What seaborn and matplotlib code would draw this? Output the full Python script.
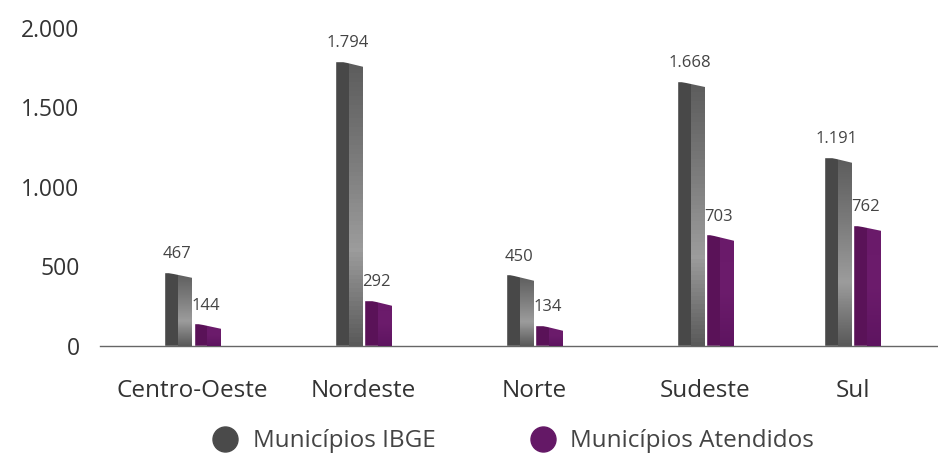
import numpy as np
import pandas as pd
import seaborn as sns
import matplotlib.pyplot as plt
from matplotlib.lines import Line2D
from matplotlib.patches import Polygon
from matplotlib.colors import LinearSegmentedColormap

regioes = ['Centro-Oeste', 'Nordeste', 'Norte', 'Sudeste', 'Sul']
municipios_ibge = [467, 1794, 450, 1668, 1191]
municipios_atendidos = [144, 292, 134, 703, 762]
series = ['Municípios IBGE', 'Municípios Atendidos']
cores = ['#484848', '#5a1258']

# horizontal placement of each region (last one sits a bit closer, as in the original)
x_pos = [0, 1, 2, 3, 3.86]

df = pd.DataFrame({
    'x': x_pos * 2,
    'serie': [series[0]] * len(regioes) + [series[1]] * len(regioes),
    'valor': municipios_ibge + municipios_atendidos,
})

sns.set_style('white')
plt.rcParams['font.family'] = ['Open Sans', 'DejaVu Sans']

fig = plt.figure(figsize=(9.38, 4.57), dpi=100)
ax = fig.add_axes([0.107, 0.243, 0.893, 0.696])

sns.barplot(data=df, x='x', y='valor', hue='serie', palette=cores, native_scale=True,
            width=0.34 / 0.86, gap=0.06, saturation=1, ax=ax, legend=False)

# lighter "3D" gradient on the right half of each bar, slanted top
grad_ibge = LinearSegmentedColormap.from_list('g1', ['#5a5a5a', '#9c9c9c', '#7a7a7a', '#5c5c5c'])
grad_atend = LinearSegmentedColormap.from_list('g2', ['#5e1460', '#6c1c6c', '#6a1a6a'])
slant = 40
n = len(regioes)
for i, p in enumerate(ax.patches[:2 * n]):
    x0, w, h = p.get_x(), p.get_width(), p.get_height()
    cmap = grad_ibge if i < n else grad_atend
    im = ax.imshow(np.linspace(0, 1, 64).reshape(-1, 1), cmap=cmap, aspect='auto',
                   extent=(x0 + w * 0.5, x0 + w, 0, h), origin='lower', zorder=3)
    im.set_clip_path(p)
    ax.add_patch(Polygon([(x0, h + 1), (x0 + w + 0.005, h + 1), (x0 + w + 0.005, h - slant)],
                         closed=True, facecolor='white', edgecolor='none', zorder=4))
    ax.text(x0 + w * 0.45, h + 60, f'{int(h):,}'.replace(',', '.'),
            ha='center', va='bottom', fontsize=12, color='#444444', zorder=5)

ax.set_xlim(-0.54, 4.36)
ax.set_ylim(0, 2000)
ax.set_xticks(x_pos)
ax.set_xticklabels(regioes)
ax.set_yticks([0, 500, 1000, 1500, 2000])
ax.set_yticklabels(['0', '500', '1.000', '1.500', '2.000'])
ax.set_xlabel('')
ax.set_ylabel('')

for s in ['top', 'right', 'left']:
    ax.spines[s].set_visible(False)
ax.spines['bottom'].set_color('#666666')
ax.spines['bottom'].set_linewidth(1)

ax.set_xticks([0.5, 1.5, 2.5, 3.5], minor=True)
ax.tick_params(axis='x', which='minor', length=18, width=1, color='#888888', direction='out')
ax.tick_params(axis='x', which='major', length=0, labelsize=17.5, labelcolor='#333333', pad=24)
ax.tick_params(axis='y', length=0, labelsize=16.5, labelcolor='#333333', pad=15)

handles = [Line2D([], [], marker='o', linestyle='', markersize=18, color=c) for c in ['#4a4a4a', '#641866']]
fig.legend(handles, series, loc='lower center', bbox_to_anchor=(0.541, -0.04), ncol=2,
           frameon=False, fontsize=17.5, labelcolor='#444444', handletextpad=0.15,
           columnspacing=3.4)

fig.savefig('out.png', dpi=100)
